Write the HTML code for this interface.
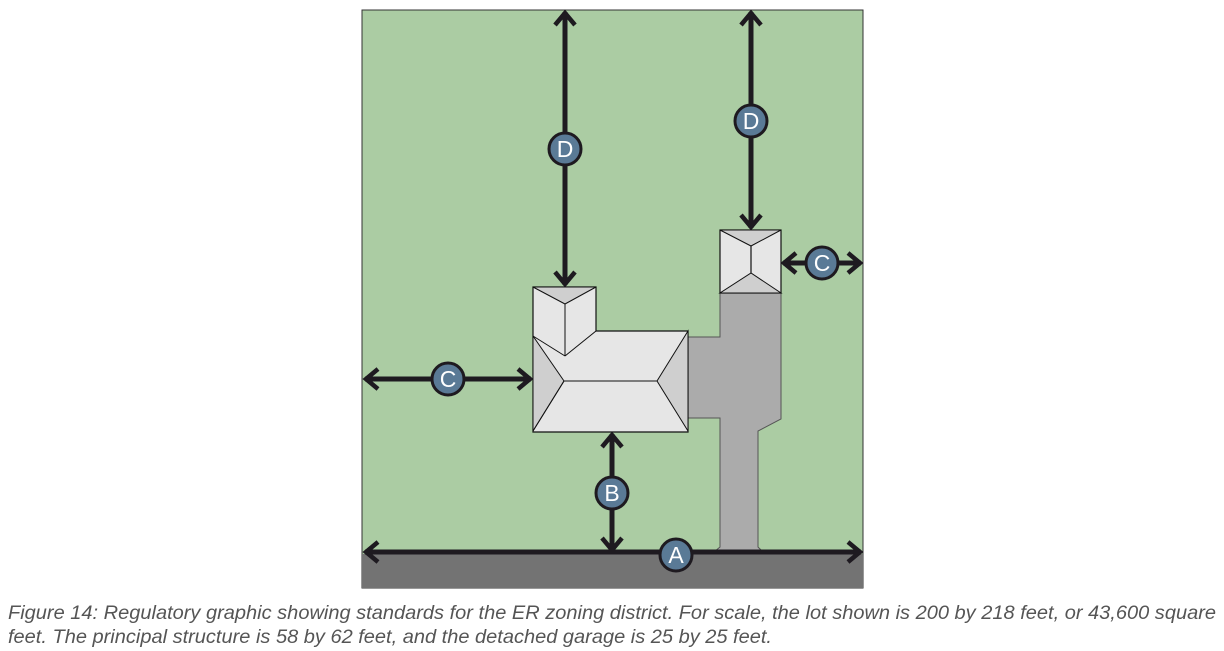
<!DOCTYPE html>
<html><head><meta charset="utf-8"><style>
html,body{margin:0;padding:0;background:#fff;width:1224px;height:651px;overflow:hidden}
</style></head><body>
<svg width="1224" height="651" viewBox="0 0 1224 651" xmlns="http://www.w3.org/2000/svg">
<defs>
<marker id="ah" viewBox="0 0 20 24" refX="17" refY="12" markerWidth="20" markerHeight="24" markerUnits="userSpaceOnUse" orient="auto-start-reverse">
<path d="M4,2 L16,12 L4,22" fill="none" stroke="#1e1a20" stroke-width="4.5"/>
</marker>
</defs>
<rect x="362" y="10" width="501" height="578" fill="#abcca3" stroke="#333" stroke-width="1"/>
<rect x="362" y="554" width="501" height="34" fill="#737373"/>
<!-- driveway -->
<polygon points="688,337 720,337 720,293 781,293 781,419 758,431 758,547 763,552 714,552 720,547 720,418 688,418" fill="#ababab" stroke="#555" stroke-width="1"/>
<!-- garage -->
<rect x="720" y="230" width="61" height="63" fill="#e6e6e6" stroke="#111" stroke-width="1.2"/>
<polygon points="720,230 781,230 751,246" fill="#cfcfcf" stroke="#111" stroke-width="1"/>
<polygon points="720,293 781,293 751,273" fill="#cfcfcf" stroke="#111" stroke-width="1"/>
<line x1="751" y1="246" x2="751" y2="273" stroke="#111" stroke-width="1.2"/>
<!-- house -->
<polygon points="533,287 596,287 596,331 688,331 688,432 533,432" fill="#e6e6e6" stroke="#111" stroke-width="1.2"/>
<polygon points="533,287 596,287 565,304" fill="#cfcfcf" stroke="#111" stroke-width="1"/>
<line x1="565" y1="304" x2="565" y2="356" stroke="#111"/>
<line x1="596" y1="331" x2="565" y2="356" stroke="#111"/>
<line x1="533" y1="336" x2="565" y2="356" stroke="#111"/>
<polygon points="533,336 564,381 533,431" fill="#cfcfcf" stroke="#111" stroke-width="1"/>
<polygon points="688,331 657,381 688,431" fill="#cfcfcf" stroke="#111" stroke-width="1"/>
<line x1="564" y1="381" x2="657" y2="381" stroke="#111"/>
<line x1="533" y1="431" x2="564" y2="381" stroke="#111"/>
<!-- dimension lines -->
<g stroke="#1e1a20" stroke-width="5" fill="none">
<line x1="365" y1="552" x2="861" y2="552" marker-start="url(#ah)" marker-end="url(#ah)"/>
<line x1="612" y1="434" x2="612" y2="551" marker-start="url(#ah)" marker-end="url(#ah)"/>
<line x1="365" y1="379" x2="531" y2="379" marker-start="url(#ah)" marker-end="url(#ah)"/>
<line x1="783" y1="263" x2="861" y2="263" marker-start="url(#ah)" marker-end="url(#ah)"/>
<line x1="565" y1="12" x2="565" y2="285" marker-start="url(#ah)" marker-end="url(#ah)"/>
<line x1="751" y1="12" x2="751" y2="228" marker-start="url(#ah)" marker-end="url(#ah)"/>
</g>
<g fill="#5a7a96" stroke="#1e1a20" stroke-width="3">
<circle cx="676" cy="555" r="16"/><circle cx="612" cy="493" r="16"/>
<circle cx="448" cy="379" r="16"/><circle cx="822" cy="263" r="16"/>
<circle cx="565" cy="149" r="16"/><circle cx="751" cy="121" r="16"/>
</g>
<g fill="#fff" font-family="Liberation Sans, sans-serif" font-size="23" text-anchor="middle">
<text x="676" y="563">A</text><text x="612" y="501">B</text>
<text x="448" y="387">C</text><text x="822" y="271">C</text>
<text x="565" y="157">D</text><text x="751" y="129">D</text>
</g>
<g fill="#555" font-family="Liberation Sans, sans-serif" font-size="19" font-style="italic">
<text x="8" y="619" textLength="1208" lengthAdjust="spacingAndGlyphs">Figure 14: Regulatory graphic showing standards for the ER zoning district. For scale, the lot shown is 200 by 218 feet, or 43,600 square</text>
<text x="8" y="643" textLength="764" lengthAdjust="spacingAndGlyphs">feet.  The principal structure is 58 by 62 feet, and the detached garage is 25 by 25 feet.</text>
</g>
</svg>
</body></html>
